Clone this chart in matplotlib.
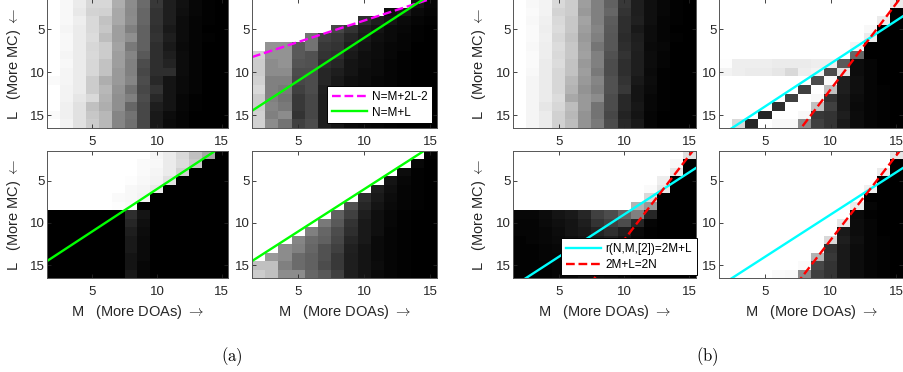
import numpy as np
import matplotlib.pyplot as plt

plt.rcParams['font.family'] = ['Liberation Sans', 'DejaVu Sans']
plt.rcParams['mathtext.fontset'] = 'cm'

# grid: columns M = 2..15, rows L = 2..16
M_VALS = list(range(2, 16))
L_VALS = list(range(2, 17))
N = 16
CYAN_C = 19  # r(N,M,[2]) = 2M+L  ->  L = 19 - M

# success maps (0 = black, 100 = white), one row per L
a_tl = [
    [100, 97, 92, 84, 84, 68, 55, 42, 22, 12, 7, 3, 1, 0],
    [100, 97, 91, 83, 82, 66, 54, 40, 20, 12, 6, 3, 1, 0],
    [100, 97, 93, 85, 76, 66, 55, 40, 20, 12, 5, 2, 1, 0],
    [100, 96, 92, 85, 78, 62, 50, 38, 19, 10, 5, 2, 0, 0],
    [100, 97, 92, 86, 74, 62, 56, 38, 20, 12, 5, 2, 1, 0],
    [100, 97, 92, 84, 80, 64, 48, 38, 18, 10, 4, 2, 0, 0],
    [100, 96, 92, 85, 80, 62, 52, 35, 18, 12, 5, 2, 0, 0],
    [100, 97, 92, 84, 76, 62, 50, 30, 18, 14, 5, 2, 0, 0],
    [100, 96, 92, 84, 76, 60, 50, 28, 18, 18, 5, 2, 0, 0],
    [98, 96, 92, 80, 68, 60, 52, 30, 16, 8, 4, 2, 0, 0],
    [100, 95, 92, 80, 72, 58, 45, 28, 20, 8, 4, 2, 0, 0],
    [100, 95, 90, 85, 70, 56, 50, 30, 16, 8, 3, 1, 0, 0],
    [100, 94, 88, 75, 68, 56, 40, 28, 12, 8, 3, 1, 0, 0],
    [98, 94, 88, 78, 72, 52, 45, 28, 10, 5, 2, 0, 0, 0],
    [100, 95, 88, 80, 72, 52, 44, 28, 10, 4, 2, 0, 0, 0],
]

a_tr = [
    [100] * 12 + [8, 3],
    [100] * 10 + [6, 10, 4, 2],
    [100] * 8 + [18, 12, 8, 4, 2, 1],
    [100] * 6 + [28, 20, 12, 8, 4, 3, 1, 0],
    [100] * 4 + [45, 25, 22, 15, 10, 6, 4, 2, 1, 0],
    [100, 58, 58, 35, 45, 22, 20, 12, 8, 5, 3, 2, 0, 0],
    [82, 58, 58, 35, 32, 20, 18, 10, 6, 5, 3, 1, 0, 0],
    [80, 55, 58, 33, 32, 18, 15, 8, 6, 4, 2, 1, 0, 0],
    [80, 55, 55, 30, 30, 15, 12, 8, 5, 4, 2, 1, 0, 0],
    [82, 50, 50, 28, 30, 15, 10, 6, 5, 3, 2, 1, 0, 0],
    [85, 50, 48, 25, 30, 13, 10, 6, 4, 3, 2, 0, 0, 0],
    [80, 50, 45, 22, 28, 12, 8, 5, 4, 3, 1, 0, 0, 0],
    [80, 52, 48, 22, 28, 12, 8, 5, 3, 2, 1, 0, 0, 0],
    [82, 50, 55, 20, 28, 12, 8, 4, 3, 2, 1, 0, 0, 0],
    [82, 55, 45, 25, 30, 12, 8, 4, 3, 2, 1, 0, 0, 0],
]

a_bl = [
    [100] * 8 + [96, 92, 85, 75, 65, 0],
    [100] * 7 + [98, 97, 92, 86, 78, 0, 0],
    [100] * 7 + [98, 96, 92, 82, 0, 0, 0],
    [100] * 6 + [99, 97, 95, 88, 0, 0, 0, 0],
    [100] * 6 + [97, 96, 92] + [0] * 5,
    [100] * 5 + [98, 97, 95] + [0] * 6,
    [100] * 5 + [99, 98] + [0] * 7,
    [0] * 6 + [18, 8] + [0] * 6,
    [0] * 6 + [15, 6] + [0] * 6,
    [0] * 6 + [12, 5] + [0] * 6,
    [0] * 6 + [10, 4] + [0] * 6,
    [0] * 6 + [10, 4] + [0] * 6,
    [0] * 6 + [8, 4] + [0] * 6,
    [0] * 6 + [8, 3] + [0] * 6,
    [0] * 6 + [10, 3] + [0] * 6,
]

a_br = [
    [100] * 13 + [1],
    [100] * 12 + [3, 0],
    [100] * 11 + [5, 1, 0],
    [100] * 10 + [8, 3, 1, 0],
    [100] * 9 + [12, 6, 2, 1, 0],
    [100] * 8 + [18, 10, 5, 2, 1, 0],
    [100] * 7 + [32, 15, 8, 4, 2, 1, 0],
    [100] * 6 + [38, 25, 12, 6, 3, 1, 0, 0],
    [100] * 5 + [48, 35, 20, 10, 6, 3, 1, 0, 0],
    [100] * 4 + [50, 40, 30, 18, 10, 6, 2, 1, 0, 0],
    [100] * 3 + [52, 42, 38, 28, 15, 10, 4, 2, 1, 0, 0],
    [100] * 2 + [55, 50, 40, 32, 25, 13, 8, 4, 2, 1, 0, 0],
    [100, 60, 55, 42, 38, 32, 22, 12, 8, 4, 2, 1, 0, 0],
    [75, 75, 50, 42, 38, 30, 22, 12, 8, 5, 2, 1, 0, 0],
    [80, 75, 55, 55, 40, 35, 25, 12, 8, 4, 2, 1, 0, 0],
]

b_tl = [
    [100, 97, 95, 85, 80, 62, 50, 38, 22, 12, 6, 3, 1, 0],
    [100, 98, 95, 83, 80, 60, 50, 40, 20, 12, 6, 3, 1, 0],
    [100, 97, 94, 85, 78, 64, 50, 36, 18, 13, 6, 2, 1, 0],
    [100, 98, 93, 86, 78, 62, 52, 35, 18, 10, 5, 2, 0, 0],
    [100, 98, 94, 84, 76, 60, 50, 34, 17, 12, 5, 2, 1, 0],
    [100, 97, 93, 86, 78, 62, 46, 34, 18, 13, 4, 3, 0, 0],
    [100, 98, 93, 85, 78, 63, 50, 32, 20, 12, 5, 2, 0, 0],
    [100, 98, 92, 86, 76, 60, 50, 30, 18, 12, 5, 2, 0, 0],
    [100, 97, 92, 84, 76, 62, 48, 30, 18, 12, 4, 1, 0, 0],
    [100, 96, 92, 84, 72, 60, 52, 32, 20, 10, 5, 1, 0, 0],
    [100, 96, 92, 84, 70, 58, 50, 32, 22, 8, 4, 1, 0, 0],
    [100, 96, 92, 86, 66, 60, 55, 30, 16, 8, 3, 1, 0, 0],
    [100, 96, 90, 84, 74, 60, 45, 30, 16, 9, 3, 1, 0, 0],
    [100, 96, 92, 82, 72, 58, 45, 28, 14, 8, 2, 0, 0, 0],
    [100, 96, 92, 82, 74, 58, 48, 30, 16, 10, 2, 0, 0, 0],
]

b_tr = [
    [100] * 13 + [92],
    [100] * 13 + [0],
    [100] * 12 + [92, 0],
    [100] * 11 + [97, 0, 0],
    [100] * 11 + [92, 0, 0],
    [100] * 10 + [96, 0, 0, 0],
    [100] * 10 + [40, 0, 0, 0],
    [99, 93, 93, 93, 92, 92, 92, 93, 93, 35, 5, 2, 0, 0],
    [95, 93, 92, 92, 90, 85, 93, 95, 30, 88, 5, 2, 0, 0],
    [100] * 7 + [30, 98, 12, 6, 2, 0, 0],
    [100] * 6 + [25, 100, 75, 12, 6, 2, 1, 0],
    [100] * 5 + [25, 100, 97, 20, 10, 5, 2, 1, 0],
    [100] * 4 + [18, 100, 100, 75, 25, 10, 4, 2, 1, 0],
    [100] * 3 + [15, 100, 100, 97, 22, 20, 12, 5, 2, 1, 0],
    [100, 85, 15, 100, 97, 97, 55, 25, 20, 10, 5, 2, 1, 0],
]

b_bl = [
    [100] * 13 + [88],
    [100] * 12 + [97, 0],
    [100] * 12 + [90, 0],
    [100] * 11 + [93, 0, 0],
    [100] * 10 + [98, 90, 0, 0],
    [100] * 10 + [85, 0, 0, 0],
    [100] * 9 + [70, 60, 0, 0, 0],
    [3, 3, 5, 8, 10, 15, 25, 30, 40, 50, 15, 0, 0, 0],
    [2, 2, 4, 6, 8, 12, 20, 25, 30, 15, 2, 0, 0, 0],
    [2, 2, 3, 5, 8, 10, 14, 18, 12, 4, 1, 0, 0, 0],
    [1, 2, 3, 4, 6, 8, 10, 12, 8, 3, 1, 0, 0, 0],
    [1, 1, 2, 3, 4, 5, 6, 6, 5, 2, 1, 0, 0, 0],
    [1, 1, 2, 2, 3, 4, 5, 5, 4, 2, 0, 0, 0, 0],
    [1, 1, 1, 2, 3, 4, 5, 4, 3, 1, 0, 0, 0, 0],
    [1, 1, 1, 2, 3, 6, 6, 5, 3, 1, 0, 0, 0, 0],
]

b_br = [
    [100] * 13 + [90],
    [100] * 13 + [0],
    [100] * 12 + [92, 0],
    [100] * 12 + [0, 0],
    [100] * 11 + [94, 0, 0],
    [100] * 11 + [0, 0, 0],
    [100] * 10 + [92, 2, 0, 0],
    [100] * 10 + [4, 1, 0, 0],
    [100] * 9 + [90, 5, 2, 0, 0],
    [100] * 9 + [10, 5, 2, 0, 0],
    [100] * 8 + [85, 12, 6, 2, 1, 0],
    [100] * 8 + [20, 10, 5, 2, 1, 0],
    [100] * 7 + [70, 22, 10, 5, 2, 1, 0],
    [100] * 6 + [98, 28, 20, 10, 5, 2, 1, 0],
    [100] * 4 + [98, 97, 55, 25, 20, 10, 5, 2, 1, 0],
]

W, H = 904, 372
fig = plt.figure(figsize=(W / 100, H / 100), dpi=100)

AX_COLOR = '#262626'
col_x = [(47, 228), (252, 437), (513, 696), (719, 903)]
row_y = [(-1, 128), (151, 278)]


def make_ax(col, row):
    x0, x1 = col_x[col]
    y0, y1 = row_y[row]
    return fig.add_axes([x0 / W, 1 - y1 / H, (x1 - x0) / W, (y1 - y0) / H])


def draw(ax, data):
    ax.imshow(np.array(data) / 100.0, cmap='gray', vmin=0, vmax=1,
              extent=(M_VALS[0] - 0.5, M_VALS[-1] + 0.5, L_VALS[-1] + 0.5, L_VALS[0] - 0.5),
              aspect='auto', interpolation='nearest')
    ax.set_xticks([5, 10, 15])
    ax.set_yticks([5, 10, 15])
    ax.tick_params(direction='in', top=True, right=True, length=3, width=0.6,
                   color=AX_COLOR, labelcolor=AX_COLOR, labelsize=9.5)
    ax.tick_params(axis='x', pad=6)
    ax.tick_params(axis='y', pad=1.5)
    for s in ax.spines.values():
        s.set_color('#555555')
        s.set_linewidth(0.7)


m_line = np.array([M_VALS[0] - 0.5, M_VALS[-1] + 0.5])
LW = 1.7

panels = [
    (0, 0, a_tl), (1, 0, a_tr), (0, 1, a_bl), (1, 1, a_br),
    (2, 0, b_tl), (3, 0, b_tr), (2, 1, b_bl), (3, 1, b_br),
]
axes = {}
for col, row, data in panels:
    ax = make_ax(col, row)
    draw(ax, data)
    axes[(col, row)] = ax

# group (a) lines
ax = axes[(1, 0)]
ax.plot(m_line, (N - m_line + 2) / 2, '--', color='#ff00ff', lw=LW, label='N=M+2L-2')
ax.plot(m_line, N - m_line, color='#00ff00', lw=LW, label='N=M+L')
leg = ax.legend(loc='lower right', fontsize=8.5, fancybox=False, framealpha=1,
                edgecolor='black', handlelength=3.0, borderaxespad=0.4,
                labelspacing=0.3, borderpad=0.4, handletextpad=0.4)
leg.get_frame().set_linewidth(0.7)
for key in [(0, 1), (1, 1)]:
    axes[key].plot(m_line, N - m_line, color='#00ff00', lw=LW)

# group (b) lines
for key in [(3, 0), (2, 1), (3, 1)]:
    axes[key].plot(m_line, CYAN_C - m_line, color='#00ffff', lw=LW, label='r(N,M,[2])=2M+L')
    axes[key].plot(m_line, 2 * N - 2 * m_line, '--', color='#ff0000', lw=LW, label='2M+L=2N')
leg = axes[(2, 1)].legend(loc='lower right', bbox_to_anchor=(1.005, 0.02), fontsize=8.5,
                          fancybox=False, framealpha=1, edgecolor='black',
                          handlelength=3.0, borderaxespad=0, labelspacing=0.3,
                          borderpad=0.4, handletextpad=0.4)
leg.get_frame().set_linewidth(0.7)

for ax in axes.values():
    ax.set_xlim(M_VALS[0] - 0.5, M_VALS[-1] + 0.5)
    ax.set_ylim(L_VALS[-1] + 0.5, L_VALS[0] - 0.5)

for key in [(0, 0), (0, 1), (2, 0), (2, 1)]:
    axes[key].set_ylabel(r'L   (More MC) $\leftarrow$', fontsize=10.5, color=AX_COLOR)
    axes[key].yaxis.set_label_coords(-0.135, 0.5)
for key in [(0, 1), (1, 1), (2, 1), (3, 1)]:
    axes[key].set_xlabel(r'M   (More DOAs) $\rightarrow$', fontsize=10.5, color=AX_COLOR)
    axes[key].xaxis.set_label_coords(0.5, -0.2)

fig.text(232 / W, 1 - 357 / H, r'$\mathrm{(a)}$', ha='center', va='center', fontsize=12)
fig.text(707 / W, 1 - 357 / H, r'$\mathrm{(b)}$', ha='center', va='center', fontsize=12)

fig.savefig('out.png', dpi=100, facecolor='white')
